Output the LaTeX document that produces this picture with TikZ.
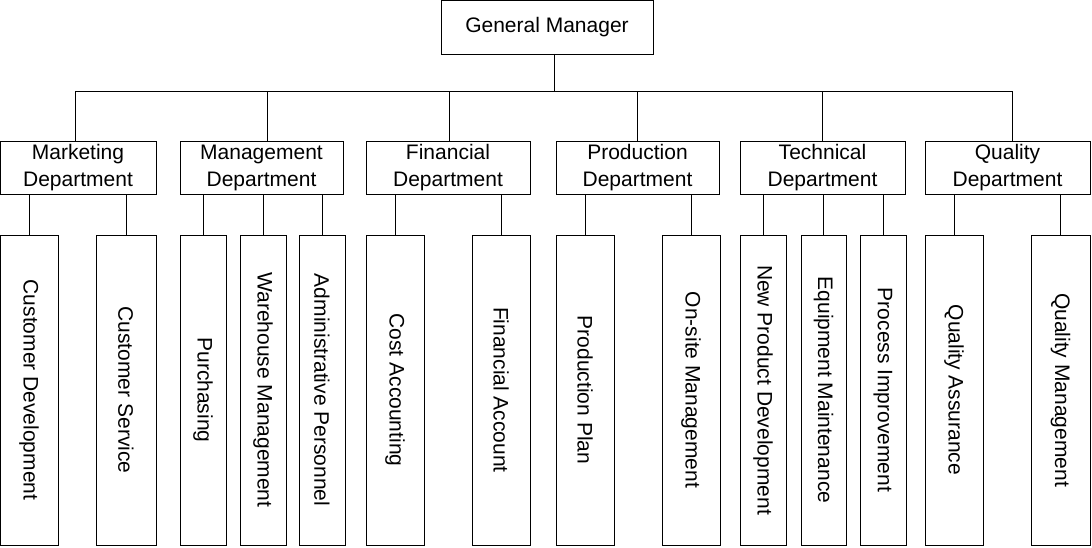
\documentclass[tikz,border=0pt]{standalone}
\usepackage{fontspec}
\setmainfont{Liberation Sans}
\begin{document}
\begin{tikzpicture}[x=1pt,y=-1pt,
 box/.style={draw,line width=0.8pt,inner sep=0pt,font=\fontsize{21}{27}\selectfont,align=center},
 ln/.style={line width=0.8pt}]
\useasboundingbox (0,0) rectangle (1092,548);
\node[box,minimum width=212pt,minimum height=54pt] (gm) at (547,27) {General Manager};
\coordinate (gmd) at (554,54);
\coordinate (bus) at (554,91);
\draw[ln] (gmd) -- (bus);
\foreach \n/\a/\b/\d/\t in {mk/0/156/75/Marketing\\Department, mg/180/343/267/Management\\Department, fi/366/530/449/Financial\\Department, pr/556/719/637/Production\\Department, te/740/905/822/Technical\\Department, qu/925/1090/1012/Quality\\Department}{
 \node[box,minimum width={\b-\a},minimum height=53pt] (\n) at ({(\a+\b)/2},167.5) {\t};
 \coordinate (\n top) at (\d,141);
 \draw[ln] (bus) -| (\n top);
}
\foreach \n/\p/\a/\b/\t in {l1/mk/0/58/Customer Development, l2/mk/96/156/Customer Service, l3/mg/180/226/Purchasing, l4/mg/240/286/Warehouse Management, l5/mg/299/345/Administrative Personnel, l6/fi/366/424/Cost Accounting, l7/fi/472/530/Financial Account, l8/pr/556/614/Production Plan, l9/pr/662/720/On-site Management, l10/te/740/786/New Product Development, l11/te/801/846/Equipment Maintenance, l12/te/860/906/Process Improvement, l13/qu/925/983/Quality Assurance, l14/qu/1031/1090/Quality Management}{
 \node[box,minimum width={\b-\a},minimum height=310pt] (\n) at ({(\a+\b)/2},390) {};
 \node[rotate=-90,font=\fontsize{21}{24}\selectfont,inner sep=0pt] at (\n.center) {\t};
 \draw[ln] (\n.north) -- (\n.north |- \p.south);
}
\end{tikzpicture}
\end{document}
